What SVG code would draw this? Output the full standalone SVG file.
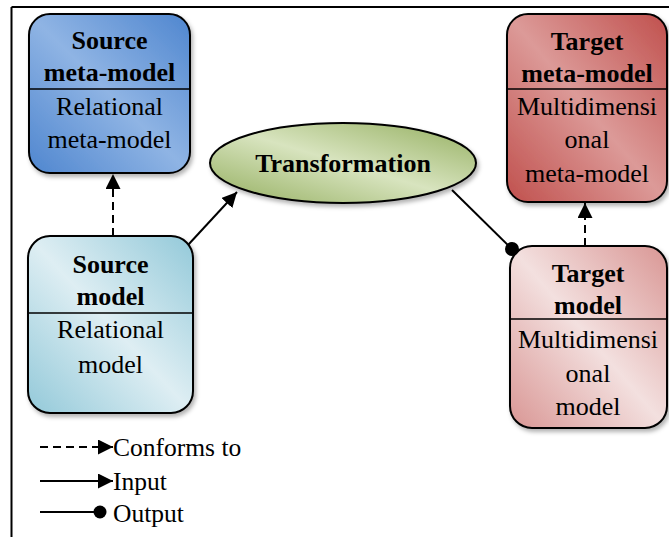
<svg xmlns="http://www.w3.org/2000/svg" width="669" height="537" viewBox="0 0 669 537">
<style>
  .box { stroke: #000; stroke-width: 2; filter: url(#shadow); }
  .div { stroke: #000; stroke-width: 1.5; }
  .t { font-family: "Liberation Serif", "Times New Roman", serif; font-size: 26px; text-anchor: middle; fill: #000; }
  .b { font-weight: bold; }
  .lg { font-family: "Liberation Serif", "Times New Roman", serif; font-size: 25.5px; fill: #000; }
  .conn { stroke: #000; stroke-width: 2; fill: none; }
  .dash { stroke-dasharray: 8 5; }
</style>
<defs>
  <filter id="shadow" x="-10%" y="-10%" width="125%" height="125%">
    <feDropShadow dx="2" dy="3" stdDeviation="2" flood-color="#000" flood-opacity="0.3"/>
  </filter>
  <linearGradient id="gBlue" x1="0" y1="1" x2="1" y2="0">
    <stop offset="0" stop-color="#4f86cf"/>
    <stop offset="0.5" stop-color="#8fb4e4"/>
    <stop offset="1" stop-color="#4f86cf"/>
  </linearGradient>
  <linearGradient id="gCyan" x1="0" y1="1" x2="1" y2="0">
    <stop offset="0" stop-color="#93c9d9"/>
    <stop offset="0.5" stop-color="#deeef3"/>
    <stop offset="1" stop-color="#93c9d9"/>
  </linearGradient>
  <linearGradient id="gRed" x1="0" y1="1" x2="1" y2="0">
    <stop offset="0" stop-color="#c0504d"/>
    <stop offset="0.5" stop-color="#dc9a98"/>
    <stop offset="1" stop-color="#c0504d"/>
  </linearGradient>
  <linearGradient id="gPink" x1="0" y1="1" x2="1" y2="0">
    <stop offset="0" stop-color="#d99694"/>
    <stop offset="0.5" stop-color="#f3e0df"/>
    <stop offset="1" stop-color="#d99694"/>
  </linearGradient>
  <linearGradient id="gGreen" x1="0" y1="1" x2="1" y2="0">
    <stop offset="0" stop-color="#93ae5e"/>
    <stop offset="0.5" stop-color="#d8e4bf"/>
    <stop offset="1" stop-color="#93ae5e"/>
  </linearGradient>
  <marker id="arrow" markerUnits="userSpaceOnUse" markerWidth="16" markerHeight="16" refX="15" refY="7.5" orient="auto">
    <path d="M0,0 L15,7.5 L0,15 Z" fill="#000"/>
  </marker>
</defs>

<rect width="669" height="537" fill="#fff"/>
<g id="frame">
  <line x1="11.5" y1="7" x2="669" y2="7" stroke="#000" stroke-width="2"/>
  <line x1="11.5" y1="7" x2="11.5" y2="537" stroke="#000" stroke-width="2"/>
</g>

<g id="connectors">
  <line class="conn dash" x1="113" y1="236" x2="113" y2="174" marker-end="url(#arrow)"/>
  <line class="conn dash" x1="585" y1="246" x2="585" y2="203" marker-end="url(#arrow)"/>
  <line class="conn" x1="188" y1="245" x2="237" y2="192" marker-end="url(#arrow)"/>
  <line class="conn" x1="452" y1="190" x2="512" y2="249"/>
</g>

<g id="source-meta-model">
  <rect class="box" x="29" y="14" width="161" height="159" rx="21" fill="url(#gBlue)"/>
  <line class="div" x1="29" y1="89" x2="190" y2="89"/>
  <text class="t b" x="109.5" y="49">Source</text>
  <text class="t b" x="109.5" y="81">meta-model</text>
  <text class="t" x="109.5" y="115">Relational</text>
  <text class="t" x="109.5" y="148">meta-model</text>
</g>

<g id="source-model">
  <rect class="box" x="28" y="236" width="165" height="177" rx="22" fill="url(#gCyan)"/>
  <line class="div" x1="28" y1="313" x2="193" y2="313"/>
  <text class="t b" x="110.5" y="273">Source</text>
  <text class="t b" x="110.5" y="305">model</text>
  <text class="t" x="110.5" y="338">Relational</text>
  <text class="t" x="110.5" y="373">model</text>
</g>

<g id="transformation">
  <ellipse cx="343" cy="163" rx="133" ry="40" fill="url(#gGreen)" stroke="#000" stroke-width="2" filter="url(#shadow)"/>
  <text class="t b" x="343" y="172">Transformation</text>
</g>

<g id="target-meta-model">
  <rect class="box" x="507" y="14" width="160" height="188" rx="21" fill="url(#gRed)"/>
  <line class="div" x1="507" y1="89" x2="667" y2="89"/>
  <text class="t b" x="587" y="50">Target</text>
  <text class="t b" x="587" y="82">meta-model</text>
  <text class="t" x="587" y="115">Multidimensi</text>
  <text class="t" x="587" y="148">onal</text>
  <text class="t" x="587" y="182">meta-model</text>
</g>

<g id="target-model">
  <rect class="box" x="510" y="246" width="157" height="182" rx="22" fill="url(#gPink)"/>
  <line class="div" x1="510" y1="319" x2="667" y2="319"/>
  <text class="t b" x="588" y="282">Target</text>
  <text class="t b" x="588" y="314">model</text>
  <text class="t" x="588" y="348">Multidimensi</text>
  <text class="t" x="588" y="382">onal</text>
  <text class="t" x="588" y="415">model</text>
</g>

<g id="output-dot">
  <circle cx="512" cy="249" r="7" fill="#000"/>
</g>

<g id="legend">
  <line class="conn dash" x1="40" y1="447" x2="113" y2="447" marker-end="url(#arrow)"/>
  <line class="conn" x1="40" y1="481" x2="113" y2="481" marker-end="url(#arrow)"/>
  <line class="conn" x1="40" y1="512" x2="100" y2="512"/>
  <circle cx="100" cy="512" r="6.5" fill="#000"/>
  <text class="lg" x="113" y="456">Conforms to</text>
  <text class="lg" x="113" y="490">Input</text>
  <text class="lg" x="113" y="522">Output</text>
</g>
</svg>
